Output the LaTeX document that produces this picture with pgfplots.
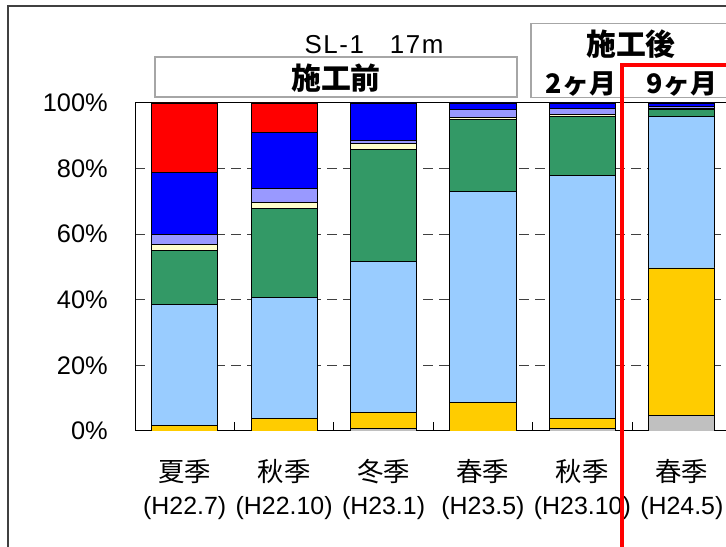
\documentclass[border=0pt]{standalone}
\usepackage{pgfplots}
\pgfplotsset{compat=1.18}
\usepackage{fontspec}
\setmainfont{Liberation Sans}
\newfontfamily\jp{Noto Sans CJK JP}
\newfontfamily\jpheavy{Noto Sans CJK JP Black}
\newfontfamily\spaced{Liberation Sans}[LetterSpace=6]

\definecolor{cGray}{HTML}{C0C0C0}
\definecolor{cGold}{HTML}{FFCC00}
\definecolor{cSky}{HTML}{99CCFF}
\definecolor{cGreen}{HTML}{339966}
\definecolor{cCream}{HTML}{FFFFCC}
\definecolor{cLav}{HTML}{9999FF}
\definecolor{cBlue}{HTML}{0000FF}
\definecolor{cRed}{HTML}{FF0000}
\definecolor{frameGray}{HTML}{404040}
\definecolor{boxGray}{HTML}{A6A6A6}

\begin{document}
\begin{tikzpicture}[x=1bp,y=1bp]
\useasboundingbox (0,0) rectangle (726,547);
\clip (0,0) rectangle (726,547);

% outer chart frame
\draw[frameGray,line width=1.5bp] (8,-10) -- (8,541) -- (760,541);

\begin{axis}[
  at={(135bp,116bp)}, anchor=south west,
  scale only axis, width=596.5bp, height=328bp,
  xmin=-0.5, xmax=5.5, ymin=0, ymax=100,
  ybar stacked, bar width=0.665,
  axis line style={black, line width=1bp},
  xtick={0,...,5},
  xticklabels={
    {{\jp\fontsize{26.5}{33}\selectfont 夏季}\\(H22.7)},
    {{\jp\fontsize{26.5}{33}\selectfont 秋季}\\(H22.10)},
    {{\jp\fontsize{26.5}{33}\selectfont 冬季}\\(H23.1)},
    {{\jp\fontsize{26.5}{33}\selectfont 春季}\\(H23.5)},
    {{\jp\fontsize{26.5}{33}\selectfont 秋季}\\(H23.10)},
    {{\jp\fontsize{26.5}{33}\selectfont 春季}\\(H24.5)}},
  minor xtick={-0.5,0.5,...,5.5},
  xtick pos=lower,
  major x tick style={draw=none},
  minor tick length=9bp,
  minor x tick style={black, line width=1bp},
  xticklabel style={align=center, anchor=north, inner sep=0pt,
    font=\fontsize{25}{33}\selectfont},
  xticklabel shift=28bp,
  ytick={0,20,40,60,80,100},
  yticklabels={0\%,20\%,40\%,60\%,80\%,100\%},
  ytick pos=left,
  major y tick style={draw=none},
  yticklabel style={anchor=east, inner sep=0pt,
    font=\fontsize{25.5}{30}\selectfont},
  yticklabel shift=27bp,
  ymajorgrids,
  major grid style={frameGray, line width=1bp, dash pattern=on 10bp off 6bp},
  every axis plot/.append style={draw=black, line width=0.9bp},
]
\addplot[fill=cGray]     coordinates {(0,0)    (1,0)    (2,0.8)  (3,0)    (4,0.8)  (5,4.8)};
\addplot[fill=cGold]     coordinates {(0,1.7)  (1,3.9)  (2,4.8)  (3,8.6)  (4,3.1)  (5,44.9)};
\addplot[fill=cSky]      coordinates {(0,37.0) (1,36.9) (2,46.2) (3,64.5) (4,74.0) (5,46.1)};
\addplot[fill=cGreen]    coordinates {(0,16.3) (1,27.1) (2,34.0) (3,21.8) (4,17.9) (5,2.3)};
\addplot[fill=cCream]    coordinates {(0,1.8)  (1,1.8)  (2,1.8)  (3,0.8)  (4,0.8)  (5,0.3)};
\addplot[fill=cLav]      coordinates {(0,3.2)  (1,4.1)  (2,0.9)  (3,2.4)  (4,1.7)  (5,0.6)};
\addplot[fill=cBlue]     coordinates {(0,18.9) (1,17.2) (2,11.5) (3,1.9)  (4,1.7)  (5,1.0)};
\addplot[fill=cRed]      coordinates {(0,21.1) (1,9.0)  (2,0)    (3,0)    (4,0)    (5,0)};
\end{axis}

% station title
\node[font=\spaced\fontsize{26}{30}\selectfont] at (374,502) {SL-1\hspace{26bp}17m};

% before / after construction headers
\draw[boxGray,line width=1.5bp,fill=white] (155,450) rectangle (517,490);
\node[font=\jpheavy\fontsize{30}{32}\selectfont] at (336,469) {施工前};
\draw[boxGray,line width=1.5bp,fill=white] (531,449.5) rectangle (760,523.5);
\node[font=\jpheavy\fontsize{30}{32}\selectfont] at (631,503) {施工後};
\node[font=\jpheavy\fontsize{27}{30}\selectfont] at (581,463) {2ヶ月};
\node[font=\jpheavy\fontsize{27}{30}\selectfont] at (682,463) {9ヶ月};

% highlight of the 9-month survey
\draw[cRed,line width=3.5bp] (622,-10) -- (622,482) -- (760,482);
\end{tikzpicture}
\end{document}
